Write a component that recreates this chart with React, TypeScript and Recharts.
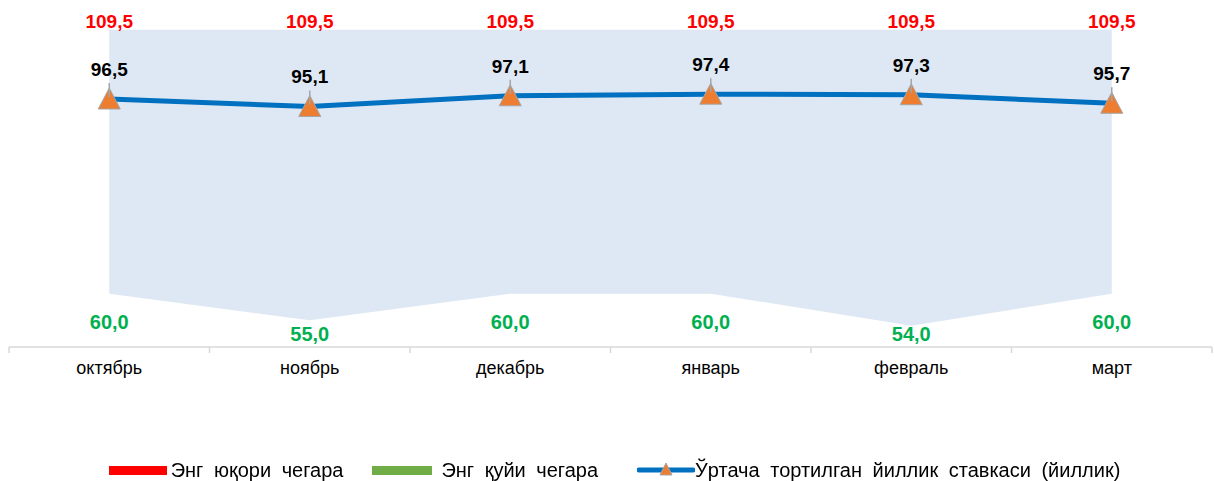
import React from 'react';
import { ComposedChart, Area, Line, XAxis, YAxis, LabelList, Legend } from 'recharts';

const months = ['октябрь', 'ноябрь', 'декабрь', 'январь', 'февраль', 'март'];
const upperLimit = [109.5, 109.5, 109.5, 109.5, 109.5, 109.5];
const lowerLimit = [60.0, 55.0, 60.0, 60.0, 54.0, 60.0];
const avgRate = [96.5, 95.1, 97.1, 97.4, 97.3, 95.7];

const legendNames = ['Энг юқори чегара', 'Энг қуйи чегара', 'Ўртача тортилган йиллик ставкаси (йиллик)'];

const data = months.map((m, i) => ({
  month: m,
  high: upperLimit[i],
  low: lowerLimit[i],
  avg: avgRate[i],
}));

const W = 1214;
const H = 481;
const MARGIN = { top: 27, right: 2, left: 9, bottom: 0 };
const BAND = (W - MARGIN.left - MARGIN.right) / months.length;
const FONT = '"Liberation Sans", Arial, sans-serif';

const fmt = (v: number) => v.toFixed(1).replace('.', ',');

function MonthTick(props: any) {
  const { x, y, payload, index } = props;
  return (
    <g>
      {index === 0 && <line x1={x - BAND / 2} y1={y} x2={x - BAND / 2} y2={y + 6} stroke="#D9D9D9" strokeWidth={1.5} />}
      <line x1={x + BAND / 2} y1={y} x2={x + BAND / 2} y2={y + 6} stroke="#D9D9D9" strokeWidth={1.5} />
      <text x={x} y={y + 27} textAnchor="middle" fontSize={18} fill="#000" fontFamily={FONT}>
        {payload.value}
      </text>
    </g>
  );
}

function TriangleDot(props: any) {
  const { cx, cy } = props;
  if (cx == null || cy == null) return null;
  return (
    <path
      d={`M${cx},${cy - 11} L${cx + 11},${cy + 10} L${cx - 11},${cy + 10} Z`}
      fill="#ED7D31"
      stroke="#A5A5A5"
      strokeWidth={1}
    />
  );
}

function UpperLabel(props: any) {
  const { x, y, value } = props;
  return (
    <text x={x} y={y - 2} textAnchor="middle" fontSize={19} fontWeight="bold" fill="#FF0000" fontFamily={FONT}>
      {fmt(value)}
    </text>
  );
}

function LowerLabel(props: any) {
  const { x, y, value } = props;
  const ly = Math.min(y + 35, 341);
  return (
    <text x={x} y={ly} textAnchor="middle" fontSize={20} fontWeight="bold" fill="#00B050" fontFamily={FONT}>
      {fmt(value)}
    </text>
  );
}

function AvgLabel(props: any) {
  const { x, y, value } = props;
  return (
    <g>
      <line x1={x} y1={y - 16} x2={x} y2={y - 2} stroke="#A5A5A5" strokeWidth={1.5} />
      <text x={x} y={y - 23} textAnchor="middle" fontSize={19} fontWeight="bold" fill="#000" fontFamily={FONT}>
        {fmt(value)}
      </text>
    </g>
  );
}

function LegendBox() {
  const item = {
    display: 'flex',
    alignItems: 'center',
    fontSize: 20,
    wordSpacing: 5,
    color: '#000',
    fontFamily: FONT,
    whiteSpace: 'nowrap',
  } as const;
  return (
    <div style={{ display: 'flex', justifyContent: 'center', alignItems: 'center', height: 22, paddingLeft: 8 }}>
      <div style={{ ...item, marginRight: 29 }}>
        <span style={{ width: 58, height: 9, background: '#FF0000', marginRight: 4 }} />
        {legendNames[0]}
      </div>
      <div style={{ ...item, marginRight: 39 }}>
        <span style={{ width: 60, height: 9, background: '#70AD47', marginRight: 9 }} />
        {legendNames[1]}
      </div>
      <div style={item}>
        <svg width={58} height={20}>
          <line x1={2} y1={10} x2={56} y2={10} stroke="#0070C0" strokeWidth={5} strokeLinecap="round" />
          <path d="M29,3 L35,15 L23,15 Z" fill="#ED7D31" stroke="#A5A5A5" strokeWidth={1} />
        </svg>
        {legendNames[2]}
      </div>
    </div>
  );
}

export default function App() {
  return (
    <div style={{ position: 'fixed', left: 0, top: 0, width: W, height: H, background: '#fff' }}>
      <ComposedChart width={W} height={H} data={data} margin={MARGIN}>
        <XAxis
          dataKey="month"
          padding={{ left: BAND / 2, right: BAND / 2 }}
          axisLine={{ stroke: '#D9D9D9', strokeWidth: 1.5 }}
          tickLine={false}
          tickSize={0}
          tickMargin={0}
          height={112}
          tick={<MonthTick />}
          interval={0}
        />
        <YAxis hide domain={[50, 110]} />
        <Legend verticalAlign="bottom" content={() => <LegendBox />} />
        <Area
          dataKey={(d: any) => [d.low, d.high]}
          fill="#DEE8F4"
          fillOpacity={1}
          stroke="none"
          isAnimationActive={false}
          legendType="none"
        />
        <Line dataKey="high" stroke="none" dot={false} activeDot={false} isAnimationActive={false}>
          <LabelList dataKey="high" content={<UpperLabel />} />
        </Line>
        <Line dataKey="low" stroke="none" dot={false} activeDot={false} isAnimationActive={false}>
          <LabelList dataKey="low" content={<LowerLabel />} />
        </Line>
        <Line
          dataKey="avg"
          stroke="#0070C0"
          strokeWidth={5}
          dot={<TriangleDot />}
          activeDot={false}
          isAnimationActive={false}
        >
          <LabelList dataKey="avg" content={<AvgLabel />} />
        </Line>
      </ComposedChart>
    </div>
  );
}
